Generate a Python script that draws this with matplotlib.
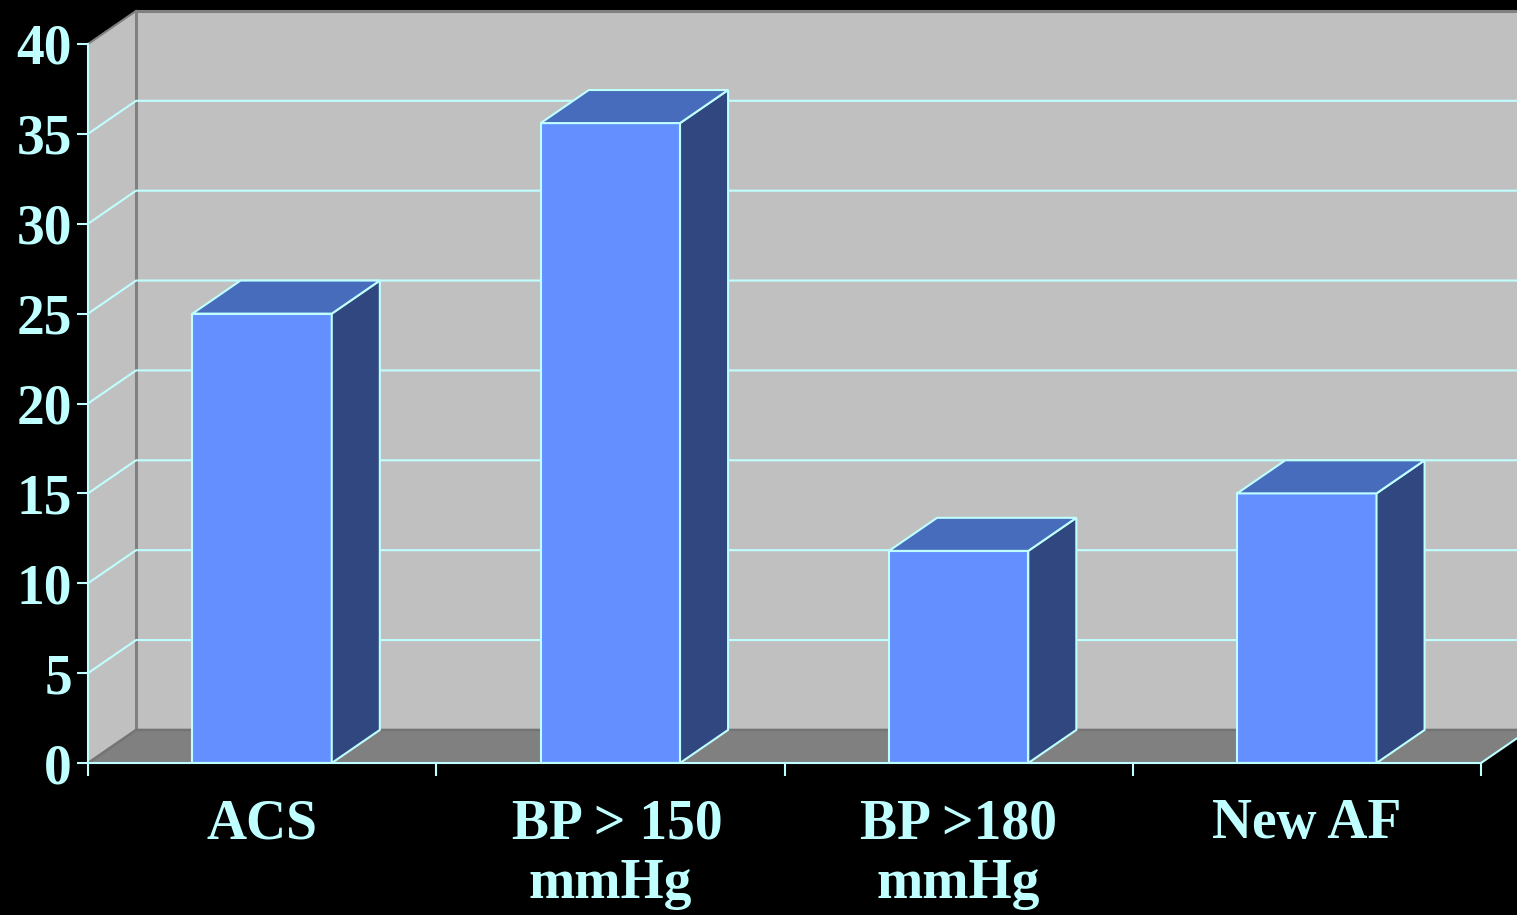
import matplotlib.pyplot as plt
from matplotlib.patches import Polygon

# data
categories = ["ACS", " BP > 150\nmmHg", "BP >180\nmmHg", "New AF"]
values = [25, 35.6, 11.8, 15]
yticks = [0, 5, 10, 15, 20, 25, 30, 35, 40]

cyan = "#C0FFFF"
front_col = "#6490FF"
top_col = "#476CBB"
side_col = "#30487F"

plt.rcParams["font.family"] = ["Liberation Serif", "DejaVu Serif"]
plt.rcParams["font.weight"] = "bold"

fig = plt.figure(figsize=(15.17, 9.15), dpi=100, facecolor="black")
ax = fig.add_axes([88 / 1517, 152 / 915, 1393 / 1517, 719 / 915])
ax.set_facecolor("none")
n = len(categories)
ax.set_xlim(0, n)
ax.set_ylim(0, 40)

# depth offset of the 3D box in data units
dx, dy = 0.138, 1.84

# walls and floor
ax.add_patch(Polygon([(dx, dy), (n + dx, dy), (n + dx, 40 + dy), (dx, 40 + dy)],
                     facecolor="#C0C0C0", edgecolor="none", clip_on=False, zorder=0))
ax.add_patch(Polygon([(0, 0), (dx, dy), (dx, 40 + dy), (0, 40)],
                     facecolor="#C0C0C0", edgecolor="none", clip_on=False, zorder=0))
ax.add_patch(Polygon([(0, 0), (n, 0), (n + dx, dy), (dx, dy)],
                     facecolor="#808080", edgecolor="none", clip_on=False, zorder=0))
ax.plot([dx, dx, n + dx], [dy, 40 + dy, 40 + dy], color="#808080", lw=2.2,
        clip_on=False, zorder=1)
ax.plot([0, dx], [40, 40 + dy], color="#808080", lw=1.5, clip_on=False, zorder=1)
ax.plot([0, dx, n + dx], [0, dy, dy], color="#747474", lw=1.8, clip_on=False, zorder=1)

# gridlines on back and left walls
for v in yticks[1:-1]:
    ax.plot([0, dx, n + dx], [v, v + dy, v + dy], color=cyan, lw=1.5,
            clip_on=False, zorder=1)
ax.plot([n, n + dx], [0, dy], color=cyan, lw=1.5, clip_on=False, zorder=1)

# bars
x = [i + 0.5 for i in range(n)]
w = 0.4
ax.bar(x, values, width=w, color=front_col, edgecolor=cyan, linewidth=1.5, zorder=3)
for xi, v in zip(x, values):
    x0, x1 = xi - w / 2, xi + w / 2
    ax.add_patch(Polygon([(x1, 0), (x1 + dx, dy), (x1 + dx, v + dy), (x1, v)],
                         facecolor=side_col, edgecolor=cyan, lw=1.5, zorder=3,
                         clip_on=False))
    ax.add_patch(Polygon([(x0, v), (x1, v), (x1 + dx, v + dy), (x0 + dx, v + dy)],
                         facecolor=top_col, edgecolor=cyan, lw=1.5, zorder=3,
                         clip_on=False))

# axes styling
for s in ["top", "right"]:
    ax.spines[s].set_visible(False)
for s in ["left", "bottom"]:
    ax.spines[s].set_color(cyan)
    ax.spines[s].set_linewidth(1.5)
    ax.spines[s].set_zorder(4)

ax.set_yticks(yticks)
ax.set_yticklabels([str(t) for t in yticks])
ax.tick_params(axis="y", colors=cyan, length=8, width=1.5, pad=3.5, labelsize=40)
ax.set_xticks(range(n + 1))
ax.set_xticklabels([])
ax.set_xticks(x, minor=True)
ax.set_xticklabels(categories, minor=True)
ax.tick_params(axis="x", which="major", colors=cyan, length=9, width=1.5)
ax.tick_params(axis="x", which="minor", colors=cyan, length=0, pad=25.5, labelsize=40)
for lab in ax.get_yticklabels() + ax.get_xticklabels(minor=True):
    lab.set_fontweight("bold")
    lab.set_color(cyan)

fig.savefig("out.png", dpi=100, facecolor="black")
